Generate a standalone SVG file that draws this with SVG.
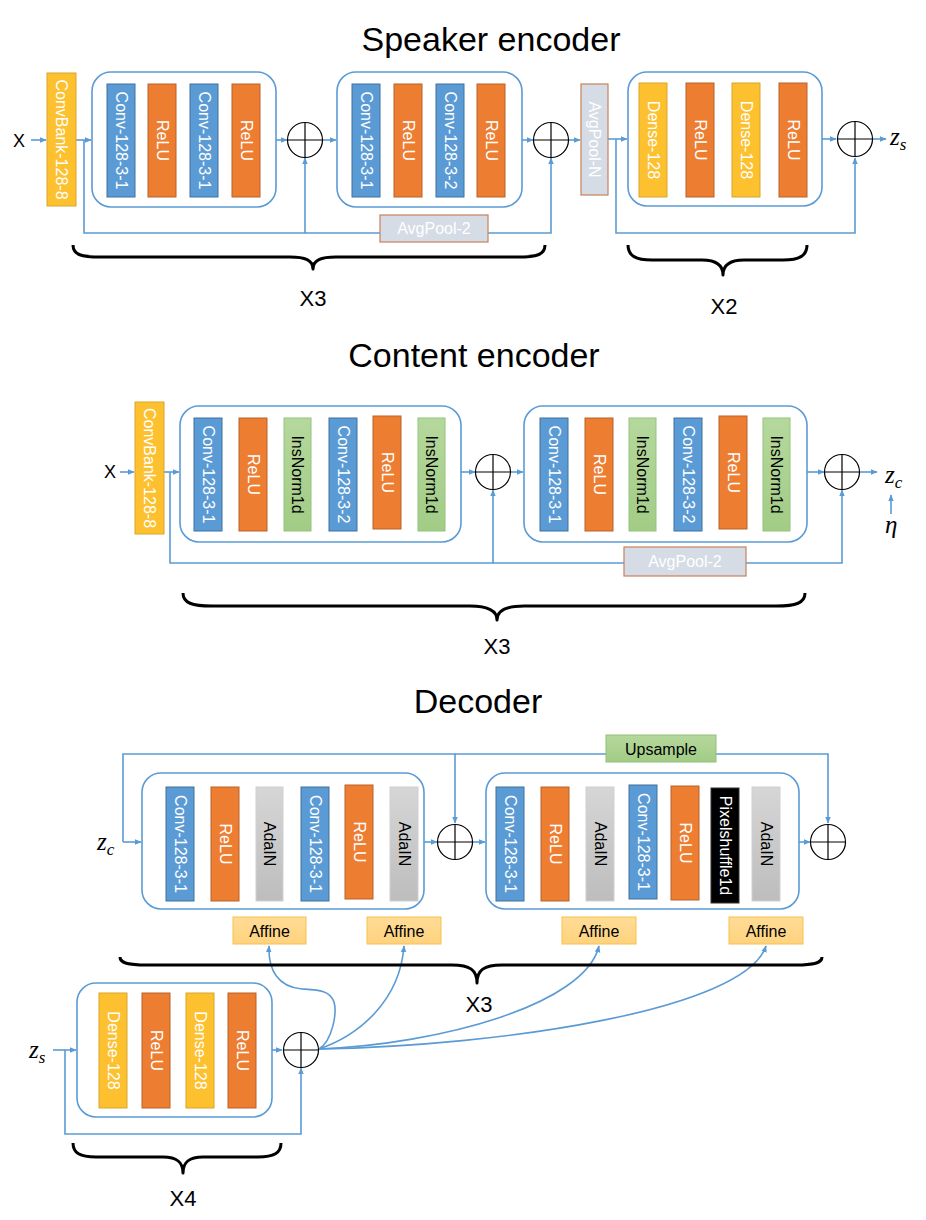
<svg xmlns="http://www.w3.org/2000/svg" width="926" height="1220" viewBox="0 0 926 1220">
<defs>
<marker id="arr" viewBox="0 0 10 10" refX="9" refY="5" markerWidth="7" markerHeight="7" markerUnits="userSpaceOnUse" orient="auto"><path d="M0,1 L10,5 L0,9 z" fill="#5B9BD5"/></marker>
<linearGradient id="gray" x1="0" y1="0" x2="0" y2="1"><stop offset="0" stop-color="#D6D6D6"/><stop offset="1" stop-color="#BDBDBD"/></linearGradient>
<linearGradient id="green" x1="0" y1="0" x2="0" y2="1"><stop offset="0" stop-color="#B5D89C"/><stop offset="1" stop-color="#A2CC86"/></linearGradient>
<linearGradient id="aff" x1="0" y1="0" x2="0" y2="1"><stop offset="0" stop-color="#FFDC96"/><stop offset="1" stop-color="#FFD27E"/></linearGradient>
</defs>
<style>
.title{font-family:"Liberation Sans",Arial,sans-serif;font-size:34px;fill:#000;text-anchor:middle}
.lbl{font-family:"Liberation Sans",Arial,sans-serif;font-size:18px;fill:#000}
.rep{font-family:"Liberation Sans",Arial,sans-serif;font-size:22px;fill:#000;text-anchor:middle}
.math{font-family:"Liberation Serif","Times New Roman",serif;font-style:italic;font-size:25px;fill:#000}
.bt{font-family:"Liberation Sans",Arial,sans-serif;font-size:16px;text-anchor:middle;dominant-baseline:central}
.ht{font-family:"Liberation Sans",Arial,sans-serif;font-size:16px;text-anchor:middle}
.wt{fill:#fff}.kt{fill:#000}
.grp{fill:#fff;stroke:#5B9BD5;stroke-width:1.6}
.conv{fill:#5B9BD5;stroke:#41719C;stroke-width:1}
.relu{fill:#ED7D31;stroke:#B8622A;stroke-width:1}
.dense{fill:#FDC02E;stroke:#D9A52A;stroke-width:1}
.ins{fill:url(#green);stroke:#93C47A;stroke-width:1}
.ada{fill:url(#gray);stroke:#D0D0D0;stroke-width:1}
.pix{fill:#000;stroke:#333;stroke-width:1}
.pool{fill:#D6DCE5;stroke:#C7805A;stroke-width:1.2}
.affine{fill:url(#aff);stroke:#F7C24E;stroke-width:1}
.up{fill:url(#green);stroke:#8FC078;stroke-width:1}
.sum circle{fill:#fff;stroke:#000;stroke-width:1.2}
.sum line{stroke:#000;stroke-width:1.2}
.con path{fill:none;stroke:#5B9BD5;stroke-width:1.6}
.brace path{fill:none;stroke:#000;stroke-width:3;stroke-linejoin:round}
</style>
<rect width="926" height="1220" fill="#fff"/>

<!-- Titles -->
<text class="title" x="491" y="51">Speaker encoder</text>
<text class="title" x="474" y="367">Content encoder</text>
<text class="title" x="478" y="713">Decoder</text>

<!-- Connectors -->
<g id="connectors" class="con">
<!-- speaker -->
<path d="M31,140 H46" marker-end="url(#arr)"/>
<path d="M76,140 H91" marker-end="url(#arr)"/>
<path d="M84,140 V233 H305 V158" marker-end="url(#arr)"/>
<path d="M276,140 H287" marker-end="url(#arr)"/>
<path d="M323,140 H336" marker-end="url(#arr)"/>
<path d="M305,233 H380 M488,233 H551 V158" marker-end="url(#arr)"/>
<path d="M522,140 H533" marker-end="url(#arr)"/>
<path d="M569,140 H580" marker-end="url(#arr)"/>
<path d="M608,139 H627" marker-end="url(#arr)"/>
<path d="M616,139 V233 H855 V158" marker-end="url(#arr)"/>
<path d="M822,139 H836" marker-end="url(#arr)"/>
<path d="M872,139 H886" marker-end="url(#arr)"/>
<!-- content -->
<path d="M120,472 H134" marker-end="url(#arr)"/>
<path d="M164,472 H179" marker-end="url(#arr)"/>
<path d="M170,472 V563 H493 V490" marker-end="url(#arr)"/>
<path d="M493,563 H624 M746,563 H842 V490" marker-end="url(#arr)"/>
<path d="M461,472 H475" marker-end="url(#arr)"/>
<path d="M511,472 H523" marker-end="url(#arr)"/>
<path d="M807,472 H824" marker-end="url(#arr)"/>
<path d="M860,472 H877" marker-end="url(#arr)"/>
<path d="M891,514 V495" marker-end="url(#arr)"/>
<!-- decoder -->
<path d="M123,842 H141" marker-end="url(#arr)"/>
<path d="M123,842 V754 H455 V823" marker-end="url(#arr)"/>
<path d="M455,754 H606 M716,754 H828 V823" marker-end="url(#arr)"/>
<path d="M424,842 H437" marker-end="url(#arr)"/>
<path d="M473,842 H485" marker-end="url(#arr)"/>
<path d="M799,842 H810" marker-end="url(#arr)"/>
<path d="M53,1050 H76" marker-end="url(#arr)"/>
<path d="M65,1050 V1134 H301 V1068" marker-end="url(#arr)"/>
<path d="M272,1050 H282" marker-end="url(#arr)"/>
<path d="M319,1049 C333,1040 337,1012 334,1002 C330,990 318,990 302,989 C278,987 268,970 269,946" marker-end="url(#arr)"/>
<path d="M319,1049 C360,1035 400,1000 404,946" marker-end="url(#arr)"/>
<path d="M319,1049 C440,1044 585,1005 599,946" marker-end="url(#arr)"/>
<path d="M319,1049 C500,1046 745,1010 766,946" marker-end="url(#arr)"/>
</g>

<!-- Speaker encoder -->
<text class="lbl" x="13" y="147">X</text>
<g id="spk-convbank"><rect class="dense" x="47" y="73" width="29" height="133"/><text class="bt wt" transform="translate(61.5,139.5) rotate(90)">ConvBank-128-8</text></g>
<g id="spk-block1">
<rect class="grp" x="92" y="72" width="184" height="135" rx="19"/>
<rect class="conv" x="107" y="84" width="28" height="113"/><text class="bt wt" transform="translate(121,140.5) rotate(90)">Conv-128-3-1</text>
<rect class="relu" x="148" y="84" width="28" height="113"/><text class="bt wt" transform="translate(162,140.5) rotate(90)">ReLU</text>
<rect class="conv" x="190" y="84" width="28" height="113"/><text class="bt wt" transform="translate(204,140.5) rotate(90)">Conv-128-3-1</text>
<rect class="relu" x="232" y="84" width="28" height="113"/><text class="bt wt" transform="translate(246,140.5) rotate(90)">ReLU</text>
</g>
<g id="spk-sum1" class="sum"><circle cx="305" cy="140" r="17.5"/><line x1="287.5" y1="140" x2="322.5" y2="140"/><line x1="305" y1="122.5" x2="305" y2="157.5"/></g>
<g id="spk-block2">
<rect class="grp" x="337" y="72" width="185" height="135" rx="19"/>
<rect class="conv" x="352" y="84" width="28" height="113"/><text class="bt wt" transform="translate(366,140.5) rotate(90)">Conv-128-3-1</text>
<rect class="relu" x="394" y="84" width="28" height="113"/><text class="bt wt" transform="translate(408,140.5) rotate(90)">ReLU</text>
<rect class="conv" x="436" y="84" width="28" height="113"/><text class="bt wt" transform="translate(450,140.5) rotate(90)">Conv-128-3-2</text>
<rect class="relu" x="477" y="84" width="28" height="113"/><text class="bt wt" transform="translate(491,140.5) rotate(90)">ReLU</text>
</g>
<g id="spk-avgpool2"><rect class="pool" x="380" y="215" width="108" height="27"/><text class="ht wt" x="434" y="234">AvgPool-2</text></g>
<g id="spk-sum2" class="sum"><circle cx="551" cy="140" r="17.5"/><line x1="533.5" y1="140" x2="568.5" y2="140"/><line x1="551" y1="122.5" x2="551" y2="157.5"/></g>
<g id="spk-avgpoolN"><rect class="pool" x="581" y="84" width="27" height="111"/><text class="bt wt" transform="translate(594.5,139.5) rotate(90)">AvgPool-N</text></g>
<g id="spk-block3">
<rect class="grp" x="628" y="72" width="194" height="134" rx="19"/>
<rect class="dense" x="639" y="83" width="28" height="114"/><text class="bt wt" transform="translate(653,140) rotate(90)">Dense-128</text>
<rect class="relu" x="686" y="83" width="28" height="114"/><text class="bt wt" transform="translate(700,140) rotate(90)">ReLU</text>
<rect class="dense" x="732" y="83" width="28" height="114"/><text class="bt wt" transform="translate(746,140) rotate(90)">Dense-128</text>
<rect class="relu" x="779" y="83" width="28" height="114"/><text class="bt wt" transform="translate(793,140) rotate(90)">ReLU</text>
</g>
<g id="spk-sum3" class="sum"><circle cx="855" cy="139" r="17.5"/><line x1="837.5" y1="139" x2="872.5" y2="139"/><line x1="855" y1="121.5" x2="855" y2="156.5"/></g>
<text class="math" x="890" y="145">z<tspan font-size="17" dy="5">s</tspan></text>
<g class="brace"><path d="M73,245 C73,255 82,257 100,257 L290,257 C305,257 313,260 313,269 C313,260 321,257 336,257 L518,257 C536,257 545,255 545,245"/></g>
<text class="rep" x="313" y="306">X3</text>
<g class="brace"><path d="M628,245 C628,256 636,260 652,260 L702,260 C716,260 723,265 723,275 C723,265 730,260 744,260 L783,260 C799,260 807,256 807,245"/></g>
<text class="rep" x="724" y="314">X2</text>

<!-- Content encoder -->
<text class="lbl" x="104" y="478">X</text>
<g id="cnt-convbank"><rect class="dense" x="135" y="402" width="29" height="132"/><text class="bt wt" transform="translate(149.5,468) rotate(90)">ConvBank-128-8</text></g>
<g id="cnt-block1">
<rect class="grp" x="180" y="406" width="281" height="136" rx="19"/>
<rect class="conv" x="194" y="418" width="28" height="113"/><text class="bt wt" transform="translate(208,474.5) rotate(90)">Conv-128-3-1</text>
<rect class="relu" x="239" y="418" width="28" height="113"/><text class="bt wt" transform="translate(253,474.5) rotate(90)">ReLU</text>
<rect class="ins" x="284" y="418" width="27" height="113"/><text class="bt kt" transform="translate(297.5,474.5) rotate(90)">InsNorm1d</text>
<rect class="conv" x="329" y="418" width="28" height="113"/><text class="bt wt" transform="translate(343,474.5) rotate(90)">Conv-128-3-2</text>
<rect class="relu" x="373" y="416" width="28" height="113"/><text class="bt wt" transform="translate(387,472.5) rotate(90)">ReLU</text>
<rect class="ins" x="418" y="418" width="27" height="113"/><text class="bt kt" transform="translate(431.5,474.5) rotate(90)">InsNorm1d</text>
</g>
<g id="cnt-sum1" class="sum"><circle cx="493" cy="472" r="17.5"/><line x1="475.5" y1="472" x2="510.5" y2="472"/><line x1="493" y1="454.5" x2="493" y2="489.5"/></g>
<g id="cnt-block2">
<rect class="grp" x="524" y="406" width="283" height="136" rx="19"/>
<rect class="conv" x="540" y="418" width="28" height="113"/><text class="bt wt" transform="translate(554,474.5) rotate(90)">Conv-128-3-1</text>
<rect class="relu" x="585" y="418" width="28" height="113"/><text class="bt wt" transform="translate(599,474.5) rotate(90)">ReLU</text>
<rect class="ins" x="629" y="418" width="27" height="113"/><text class="bt kt" transform="translate(642.5,474.5) rotate(90)">InsNorm1d</text>
<rect class="conv" x="674" y="418" width="28" height="113"/><text class="bt wt" transform="translate(688,474.5) rotate(90)">Conv-128-3-2</text>
<rect class="relu" x="719" y="416" width="28" height="113"/><text class="bt wt" transform="translate(733,472.5) rotate(90)">ReLU</text>
<rect class="ins" x="763" y="418" width="27" height="113"/><text class="bt kt" transform="translate(776.5,474.5) rotate(90)">InsNorm1d</text>
</g>
<g id="cnt-avgpool2"><rect class="pool" x="624" y="547" width="122" height="29"/><text class="ht wt" x="685" y="567">AvgPool-2</text></g>
<g id="cnt-sum2" class="sum"><circle cx="842" cy="472" r="17.5"/><line x1="824.5" y1="472" x2="859.5" y2="472"/><line x1="842" y1="454.5" x2="842" y2="489.5"/></g>
<text class="math" x="885" y="483">z<tspan font-size="17" dy="5">c</tspan></text>
<text class="math" x="885" y="533" font-size="20">η</text>
<g class="brace"><path d="M183,593 C183,603 192,606 212,606 L470,606 C488,606 497,610 497,620 C497,610 506,606 524,606 L776,606 C796,606 805,603 805,593"/></g>
<text class="rep" x="497" y="654">X3</text>

<!-- Decoder -->
<text class="math" x="97" y="850">z<tspan font-size="17" dy="5">c</tspan></text>
<g id="dec-upsample"><rect class="up" x="606" y="735" width="110" height="27"/><text class="ht kt" x="661" y="755" font-size="17">Upsample</text></g>
<g id="dec-block1">
<rect class="grp" x="142" y="773" width="282" height="136" rx="19"/>
<rect class="conv" x="166" y="787" width="28" height="114"/><text class="bt wt" transform="translate(180,844) rotate(90)">Conv-128-3-1</text>
<rect class="relu" x="211" y="787" width="28" height="114"/><text class="bt wt" transform="translate(225,844) rotate(90)">ReLU</text>
<rect class="ada" x="256" y="787" width="27" height="114"/><text class="bt kt" transform="translate(269.5,844) rotate(90)">AdaIN</text>
<rect class="conv" x="301" y="787" width="28" height="114"/><text class="bt wt" transform="translate(315,844) rotate(90)">Conv-128-3-1</text>
<rect class="relu" x="345" y="785" width="28" height="114"/><text class="bt wt" transform="translate(359,842) rotate(90)">ReLU</text>
<rect class="ada" x="390" y="787" width="28" height="114"/><text class="bt kt" transform="translate(404,844) rotate(90)">AdaIN</text>
</g>
<g id="dec-sum1" class="sum"><circle cx="455" cy="842" r="17.5"/><line x1="437.5" y1="842" x2="472.5" y2="842"/><line x1="455" y1="824.5" x2="455" y2="859.5"/></g>
<g id="dec-block2">
<rect class="grp" x="486" y="773" width="313" height="136" rx="19"/>
<rect class="conv" x="496" y="787" width="28" height="114"/><text class="bt wt" transform="translate(510,844) rotate(90)">Conv-128-3-1</text>
<rect class="relu" x="541" y="787" width="28" height="114"/><text class="bt wt" transform="translate(555,844) rotate(90)">ReLU</text>
<rect class="ada" x="586" y="787" width="28" height="114"/><text class="bt kt" transform="translate(600,844) rotate(90)">AdaIN</text>
<rect class="conv" x="629" y="785" width="28" height="114"/><text class="bt wt" transform="translate(643,842) rotate(90)">Conv-128-3-1</text>
<rect class="relu" x="671" y="786" width="28" height="114"/><text class="bt wt" transform="translate(685,843) rotate(90)">ReLU</text>
<rect class="pix" x="711" y="788" width="28" height="115"/><text class="bt wt" transform="translate(725,845.5) rotate(90)">Pixelshuffle1d</text>
<rect class="ada" x="752" y="787" width="28" height="114"/><text class="bt kt" transform="translate(766,844) rotate(90)">AdaIN</text>
</g>
<g id="dec-sum2" class="sum"><circle cx="828" cy="842" r="17.5"/><line x1="810.5" y1="842" x2="845.5" y2="842"/><line x1="828" y1="824.5" x2="828" y2="859.5"/></g>
<g id="dec-affine1"><rect class="affine" x="233" y="917" width="73" height="27"/><text class="ht kt" x="269.5" y="937" font-size="17">Affine</text></g>
<g id="dec-affine2"><rect class="affine" x="367" y="917" width="74" height="27"/><text class="ht kt" x="404" y="937" font-size="17">Affine</text></g>
<g id="dec-affine3"><rect class="affine" x="562" y="917" width="74" height="27"/><text class="ht kt" x="599" y="937" font-size="17">Affine</text></g>
<g id="dec-affine4"><rect class="affine" x="729" y="917" width="74" height="27"/><text class="ht kt" x="766" y="937" font-size="17">Affine</text></g>
<g class="brace"><path d="M120,957 C120,963 128,965 146,965 L452,965 C470,965 477,970 477,983 C477,970 484,965 502,965 L796,965 C814,965 822,963 822,957"/></g>
<text class="rep" x="479" y="1012">X3</text>
<text class="math" x="29" y="1058">z<tspan font-size="17" dy="5">s</tspan></text>
<g id="dec-block3">
<rect class="grp" x="77" y="983" width="195" height="134" rx="19"/>
<rect class="dense" x="99" y="993" width="28" height="115"/><text class="bt wt" transform="translate(113,1050.5) rotate(90)">Dense-128</text>
<rect class="relu" x="142" y="993" width="28" height="115"/><text class="bt wt" transform="translate(156,1050.5) rotate(90)">ReLU</text>
<rect class="dense" x="186" y="993" width="28" height="115"/><text class="bt wt" transform="translate(200,1050.5) rotate(90)">Dense-128</text>
<rect class="relu" x="228" y="993" width="28" height="115"/><text class="bt wt" transform="translate(242,1050.5) rotate(90)">ReLU</text>
</g>
<g id="dec-sum3" class="sum"><circle cx="301" cy="1050" r="17.5"/><line x1="283.5" y1="1050" x2="318.5" y2="1050"/><line x1="301" y1="1032.5" x2="301" y2="1067.5"/></g>
<g class="brace"><path d="M73,1143 C73,1153 80,1157 96,1157 L163,1157 C177,1157 183,1162 183,1173 C183,1162 189,1157 203,1157 L258,1157 C274,1157 281,1153 281,1143"/></g>
<text class="rep" x="183" y="1206">X4</text>
</svg>
